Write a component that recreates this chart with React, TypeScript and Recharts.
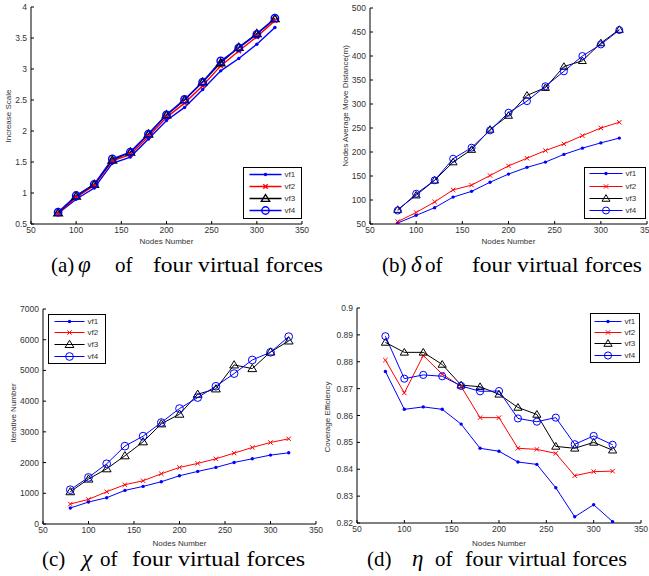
import React from "react";
import { LineChart, Line, XAxis, YAxis, Legend, Label } from "recharts";

const NODES = [80, 100, 120, 140, 160, 180, 200, 220, 240, 260, 280, 300, 320];
const X_TICKS = [50, 100, 150, 200, 250, 300, 350];

// (a) increase scale
const PHI_VF1 = [0.67, 0.9, 1.08, 1.48, 1.58, 1.87, 2.17, 2.38, 2.67, 2.97, 3.17, 3.4, 3.67];
const PHI_VF2 = [0.67, 0.93, 1.12, 1.52, 1.62, 1.91, 2.22, 2.45, 2.73, 3.05, 3.29, 3.52, 3.78];
const PHI_VF3 = [0.68, 0.95, 1.14, 1.53, 1.66, 1.95, 2.26, 2.5, 2.79, 3.1, 3.35, 3.57, 3.81];
const PHI_VF4 = [0.69, 0.96, 1.14, 1.55, 1.66, 1.95, 2.26, 2.51, 2.79, 3.13, 3.34, 3.56, 3.82];
const PHI_TICKS = [0.5, 1, 1.5, 2, 2.5, 3, 3.5, 4];

// (b) average move distance
const DELTA_VF1 = [52, 68, 84, 106, 118, 137, 154, 168, 179, 195, 208, 219, 229];
const DELTA_VF2 = [55, 74, 96, 121, 131, 151, 171, 187, 203, 217, 234, 250, 262];
const DELTA_VF3 = [80, 110, 141, 179, 205, 247, 276, 318, 334, 378, 390, 427, 455];
const DELTA_VF4 = [78, 113, 141, 186, 209, 245, 282, 306, 337, 368, 400, 424, 454];
const DELTA_TICKS = [50, 100, 150, 200, 250, 300, 350, 400, 450, 500];

// (c) iterative number
const CHI_VF1 = [520, 715, 856, 1094, 1224, 1376, 1571, 1712, 1842, 2004, 2123, 2243, 2318];
const CHI_VF2 = [650, 802, 1051, 1278, 1408, 1636, 1842, 1972, 2123, 2308, 2492, 2654, 2774];
const CHI_VF3 = [1051, 1463, 1798, 2221, 2676, 3261, 3575, 4225, 4399, 5179, 5060, 5601, 5959];
const CHI_VF4 = [1116, 1517, 1961, 2535, 2860, 3304, 3759, 4117, 4485, 4897, 5341, 5590, 6100];
const CHI_TICKS = [0, 1000, 2000, 3000, 4000, 5000, 6000, 7000];

// (d) coverage efficiency
const ETA_VF1 = [0.8764, 0.8623, 0.8632, 0.8623, 0.8568, 0.8478, 0.8467, 0.8427, 0.8418, 0.8331, 0.8223, 0.8268, 0.8205];
const ETA_VF2 = [0.8806, 0.8684, 0.8823, 0.8754, 0.8708, 0.8592, 0.8592, 0.8478, 0.8474, 0.8459, 0.8376, 0.8391, 0.8393];
const ETA_VF3 = [0.8872, 0.8835, 0.8835, 0.879, 0.8713, 0.8707, 0.8679, 0.863, 0.8604, 0.8485, 0.8478, 0.85, 0.8471];
const ETA_VF4 = [0.8895, 0.8737, 0.8751, 0.8746, 0.871, 0.869, 0.8691, 0.8589, 0.8577, 0.8592, 0.8493, 0.8524, 0.8491];
const ETA_TICKS = [0.82, 0.83, 0.84, 0.85, 0.86, 0.87, 0.88, 0.89, 0.9];

const SANS = '"Liberation Sans", Arial, Helvetica, sans-serif';
const SERIF = '"Liberation Serif", "Times New Roman", serif';
const TEXT = "#333";

const SERIES = [
  { key: "vf1", color: "#0000ff", kind: "dot" },
  { key: "vf2", color: "#ff0000", kind: "x" },
  { key: "vf3", color: "#000000", kind: "tri" },
  { key: "vf4", color: "#0000ff", kind: "circle" },
];

function rows(a: number[], b: number[], c: number[], d: number[]) {
  return NODES.map((n, i) => ({ n, vf1: a[i], vf2: b[i], vf3: c[i], vf4: d[i] }));
}

function Mark({ kind, x, y, color, s, sw }: any) {
  if (kind === "dot") return <circle cx={x} cy={y} r={1.7} fill={color} />;
  if (kind === "x") {
    const k = 2.2;
    return (
      <g stroke={color} strokeWidth={sw}>
        <line x1={x - k} y1={y - k} x2={x + k} y2={y + k} />
        <line x1={x - k} y1={y + k} x2={x + k} y2={y - k} />
      </g>
    );
  }
  if (kind === "tri") {
    const pts = `${x},${y - s} ${x - s * 1.05},${y + s * 0.72} ${x + s * 1.05},${y + s * 0.72}`;
    return <polygon points={pts} fill="none" stroke={color} strokeWidth={sw} />;
  }
  return <circle cx={x} cy={y} r={s * 0.92} fill="none" stroke={color} strokeWidth={sw} />;
}

function dotFor(kind: string, color: string, s: number, sw: number) {
  return (p: any) => {
    if (p.cx == null || p.cy == null) return <g key={p.index} />;
    return <Mark key={p.index} kind={kind} x={p.cx} y={p.cy} color={color} s={s} sw={sw} />;
  };
}

function LegendBox({ lg, s, sw }: any) {
  return (
    <div
      style={{
        width: lg.w,
        height: lg.h,
        border: "1.5px solid #000",
        boxSizing: "border-box",
        background: "#fff",
      }}
    >
      <svg width={lg.w - 3} height={lg.h - 3} style={{ display: "block" }}>
        {SERIES.map((se, i) => {
          const y = lg.rows[i] - 1.5;
          const x1 = lg.line[0] - 1.5;
          const x2 = lg.line[1] - 1.5;
          return (
            <g key={se.key}>
              <line x1={x1} y1={y} x2={x2} y2={y} stroke={se.color} strokeWidth={sw} />
              <Mark kind={se.kind} x={(x1 + x2) / 2} y={y} color={se.color} s={s} sw={sw} />
              <text x={lg.text - 1.5} y={y} dominantBaseline="central" fontSize={8} fontFamily={SANS} fill={TEXT}>
                {se.key}
              </text>
            </g>
          );
        })}
      </svg>
    </div>
  );
}

function Panel(p: any) {
  const tickStyle = { fontSize: 8.5, fill: TEXT, fontFamily: SANS };
  return (
    <div style={{ position: "absolute", left: p.left, top: p.top }}>
      <LineChart width={p.width} height={p.height} data={p.data} margin={p.margin}>
        <XAxis
          dataKey="n"
          type="number"
          domain={[50, 350]}
          ticks={X_TICKS}
          interval={0}
          allowDataOverflow
          height={p.xHeight}
          tickSize={-3}
          tickMargin={6}
          stroke="#000"
          tick={tickStyle}
        >
          <Label
            value="Nodes Number"
            position="insideBottom"
            offset={p.xTitleOffset}
            style={{ fontSize: 8, fill: TEXT, fontFamily: SANS }}
          />
        </XAxis>
        <XAxis
          xAxisId="top"
          orientation="top"
          type="number"
          domain={[50, 350]}
          ticks={X_TICKS}
          interval={0}
          allowDataOverflow
          height={0}
          tickSize={-3}
          tick={false}
          stroke="#000"
        />
        <YAxis
          type="number"
          domain={p.yDomain}
          ticks={p.yTicks}
          interval={0}
          allowDataOverflow
          width={p.yWidth}
          tickSize={-3}
          tickMargin={7}
          stroke="#000"
          tick={tickStyle}
        >
          <Label
            content={() => (
              <text
                x={p.yTitle[1]}
                y={p.yTitle[2]}
                transform={`rotate(-90 ${p.yTitle[1]} ${p.yTitle[2]})`}
                textAnchor="middle"
                dominantBaseline="central"
                fontSize={8}
                fontFamily={SANS}
                fill={TEXT}
              >
                {p.yTitle[0]}
              </text>
            )}
          />
        </YAxis>
        <YAxis
          yAxisId="right"
          orientation="right"
          type="number"
          domain={p.yDomain}
          ticks={p.yTicks}
          interval={0}
          allowDataOverflow
          width={0}
          tickSize={-3}
          tick={false}
          stroke="#000"
        />
        <Legend
          layout="vertical"
          align="center"
          verticalAlign="middle"
          wrapperStyle={{ left: p.legend.x, top: p.legend.y, width: p.legend.w, height: p.legend.h }}
          content={() => <LegendBox lg={p.legend} s={p.mk} sw={p.lineW} />}
        />
        {SERIES.map((se) => (
          <Line
            key={se.key}
            type="linear"
            dataKey={se.key}
            stroke={se.color}
            strokeWidth={p.lineW}
            dot={dotFor(se.kind, se.color, p.mk, p.lineW)}
            activeDot={false}
            isAnimationActive={false}
          />
        ))}
      </LineChart>
    </div>
  );
}

const CAPTIONS = [
  { y: 272, parts: [["(a)", 51], ["φ", 78], ["of", 115], ["four virtual forces", 153, 170]] },
  { y: 272, parts: [["(b)", 382], ["δ", 411], ["of", 425], ["four virtual forces", 472, 170]] },
  { y: 566, parts: [["(c)", 42], ["χ", 82], ["of", 100], ["four virtual forces", 132, 173]] },
  { y: 566, parts: [["(d)", 367], ["η", 412], ["of", 435], ["four virtual forces", 465, 162]] },
];

export default function App() {
  return (
    <div style={{ position: "absolute", left: 0, top: 0, width: 649, height: 576, background: "#fff" }}>
      <Panel
        left={0}
        top={0}
        width={325}
        height={250}
        margin={{ top: 7, right: 23, bottom: 0, left: 0 }}
        yWidth={31}
        xHeight={26}
        xTitleOffset={6}
        yDomain={[0.5, 4]}
        yTicks={PHI_TICKS}
        yTitle={["Increase Scale", 8, 116]}
        data={rows(PHI_VF1, PHI_VF2, PHI_VF3, PHI_VF4)}
        lineW={1.4}
        mk={4}
        legend={{ x: 243, y: 167, w: 59, h: 52, rows: [8, 20, 32, 44], line: [7, 39], text: 42 }}
      />
      <Panel
        left={325}
        top={0}
        width={324}
        height={250}
        margin={{ top: 8, right: 2, bottom: 0, left: 0 }}
        yWidth={45}
        xHeight={26}
        xTitleOffset={6}
        yDomain={[50, 500]}
        yTicks={DELTA_TICKS}
        yTitle={["Nodes Average Move Distance(m)", 20, 106]}
        data={rows(DELTA_VF1, DELTA_VF2, DELTA_VF3, DELTA_VF4)}
        lineW={1}
        mk={3.8}
        legend={{ x: 259, y: 167, w: 62, h: 52, rows: [7, 20, 32, 44], line: [6, 39], text: 42 }}
      />
      <Panel
        left={0}
        top={290}
        width={325}
        height={260}
        margin={{ top: 19, right: 9, bottom: 0, left: 0 }}
        yWidth={43}
        xHeight={26}
        xTitleOffset={4}
        yDomain={[0, 7000]}
        yTicks={CHI_TICKS}
        yTitle={["Iterative Number", 13, 123]}
        data={rows(CHI_VF1, CHI_VF2, CHI_VF3, CHI_VF4)}
        lineW={1}
        mk={4.2}
        legend={{ x: 48, y: 24, w: 58, h: 50, rows: [8, 19, 31, 43], line: [7, 37], text: 40 }}
      />
      <Panel
        left={315}
        top={290}
        width={334}
        height={260}
        margin={{ top: 18, right: 8, bottom: 0, left: 0 }}
        yWidth={42}
        xHeight={27}
        xTitleOffset={4}
        yDomain={[0.82, 0.9]}
        yTicks={ETA_TICKS}
        yTitle={["Coverage Efficiency", 12, 127]}
        data={rows(ETA_VF1, ETA_VF2, ETA_VF3, ETA_VF4)}
        lineW={1}
        mk={3.9}
        legend={{ x: 275, y: 23, w: 50, h: 50, rows: [9, 20, 31, 43], line: [5, 32], text: 35 }}
      />
      <svg
        width={649}
        height={576}
        style={{ position: "absolute", left: 0, top: 0, pointerEvents: "none" }}
      >
        {CAPTIONS.map((c, ci) =>
          c.parts.map((pt: any, i: number) => (
            <text
              key={`${ci}-${i}`}
              x={pt[1]}
              y={c.y}
              fontFamily={SERIF}
              fontSize={i === 1 ? 23 : 21}
              fontStyle={i === 1 ? "italic" : "normal"}
              fill="#000"
              textLength={pt[2]}
              lengthAdjust={pt[2] ? "spacingAndGlyphs" : undefined}
            >
              {pt[0]}
            </text>
          ))
        )}
      </svg>
    </div>
  );
}
